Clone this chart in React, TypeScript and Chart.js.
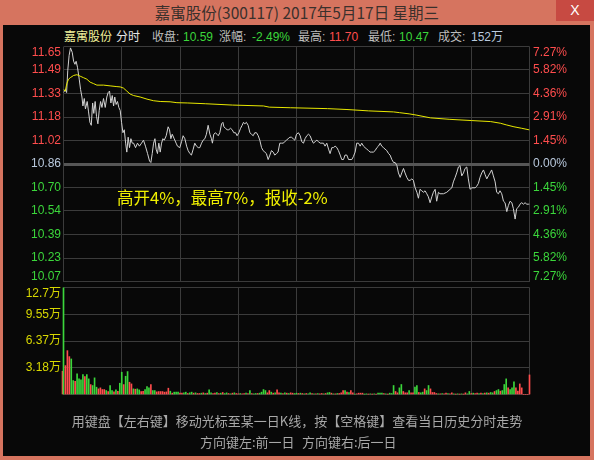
import React, { useEffect, useRef } from 'react';
import { Chart, registerables } from 'chart.js';

Chart.register(...registerables);

// ---------------- data ----------------
const stockName = '嘉寓股份';
const stockCode = '300117';
const dateText = '2017年5月17日';
const weekdayText = '星期三';
const prevClose = 10.86;
const pctStep = 1.454; // percent per grid row
const gridRows = 5;

const quoteLabels = ['收盘:', '涨幅:', '最高:', '最低:', '成交:'];
const quoteValues = ['10.59', '-2.49%', '11.70', '10.47', '152万'];

// [minute from 9:30, price]
const priceAm: [number, number][] = [
  [0, 11.34], [0.9, 11.36], [1.6, 11.34], [2.2, 11.49], [2.9, 11.59], [3.6, 11.64], [4.5, 11.61], [5.2, 11.55], [5.9, 11.53], [6.5, 11.55],
  [7.2, 11.51], [8.1, 11.43], [8.8, 11.36], [9.5, 11.31], [10, 11.25], [10.7, 11.30], [11.3, 11.23], [12.2, 11.28], [12.9, 11.21], [13.6, 11.14],
  [14.3, 11.12], [15, 11.27], [15.6, 11.20], [16.3, 11.28], [17, 11.18], [17.7, 11.13], [18.4, 11.22], [19.1, 11.28], [19.8, 11.24], [20.6, 11.30],
  [21.5, 11.24], [22.3, 11.31], [23, 11.34], [23.7, 11.35], [24.4, 11.27], [25.1, 11.32], [25.8, 11.25], [26.4, 11.31], [27.1, 11.26], [27.8, 11.28],
  [28.5, 11.24], [29.2, 11.22], [29.9, 11.14], [30.6, 11.07], [31.3, 11.09], [32, 11.00], [32.6, 10.94], [33.3, 11.04], [34, 10.97], [34.7, 11.03],
  [35.4, 11.00], [36.1, 11.00], [37.1, 10.97], [38.1, 11.00], [39.1, 10.98], [40.2, 11.00], [41.2, 11.02], [42.2, 10.98], [43.3, 10.93], [44.3, 10.88],
  [45, 10.87], [45.7, 10.93], [46.4, 11.00], [47.1, 11.03], [47.7, 10.96], [48.4, 10.93], [49.1, 11.00], [49.8, 10.94], [50.5, 11.00], [51.2, 11.03],
  [51.9, 11.02], [52.9, 11.05], [53.9, 11.11], [54.6, 11.09], [55.3, 11.03], [56, 11.06], [57, 11.03], [58, 11.00], [58.7, 10.98],
  [59.9, 10.97], [60.8, 11.01], [61.6, 11.05], [62.5, 11.03], [63.4, 10.98], [64.2, 10.95], [65.1, 10.93], [65.9, 10.92], [66.8, 10.96], [67.6, 11.00],
  [68.5, 10.98], [69.4, 10.97], [70.2, 10.97], [71.1, 11.00], [71.9, 11.02], [72.8, 11.03], [73.6, 11.06], [74.5, 11.12], [75.4, 11.06], [76.2, 11.03],
  [76.7, 11.00], [77.4, 11.06], [78.3, 11.07], [79, 11.06], [79.7, 11.05], [80.5, 11.07], [81.4, 11.13], [82.1, 11.14], [82.6, 11.11], [83.4, 11.10],
  [84.3, 11.09], [85.1, 11.09], [86, 11.10], [86.9, 11.09], [87.7, 11.07], [88.6, 11.07], [89.4, 11.05], [90.3, 11.07], [91.2, 11.10], [92, 11.12],
  [92.7, 11.14], [93.4, 11.13], [94.2, 11.14], [95.1, 11.12], [96, 11.07], [96.8, 11.06], [97.7, 11.05], [98.5, 11.07], [99.4, 11.07], [100.3, 11.05],
  [101.1, 11.02], [102, 10.97], [102.8, 10.95], [103.7, 10.94], [104.5, 10.93], [105.4, 10.89], [106.3, 10.92], [107.1, 10.95], [108, 10.94], [108.8, 10.92],
  [109.7, 10.93], [110.5, 10.94], [111.4, 11.00], [112.3, 11.00], [113.1, 11.00], [114, 11.01], [114.8, 11.02], [115.7, 11.03], [116.6, 11.04], [117.4, 11.04],
  [118.3, 11.03], [119.1, 11.02], [120, 11.06],
];

const pricePm: [number, number][] = [
  [121, 11.07], [121.9, 11.05], [122.7, 11.01], [123.6, 11.00], [124.4, 11.03], [125.3, 11.05], [126.2, 11.06], [127, 11.05], [127.9, 11.02], [128.7, 11.00],
  [129.6, 11.01], [130.5, 11.02], [131.3, 11.01], [132.2, 11.00], [133.9, 11.00], [134.7, 10.98], [135.6, 11.00], [136.5, 10.96], [137.3, 10.93], [138.2, 10.97],
  [139, 10.97], [139.9, 10.98], [140.8, 10.97], [141.6, 10.95], [142.5, 10.92], [143.3, 10.89], [144.2, 10.89], [145, 10.92], [145.9, 10.92], [146.8, 10.89],
  [148.5, 10.89], [149.3, 10.91], [150.2, 10.94], [151, 11.00], [151.9, 11.00], [152.8, 10.98], [153.6, 11.00], [154.5, 10.98], [155.3, 10.97], [156.2, 10.96],
  [157.1, 10.95], [157.9, 10.94], [158.8, 10.94], [159.6, 10.94], [160.5, 10.95], [161.4, 10.97], [162.2, 10.98], [163.1, 11.00], [163.9, 10.98], [164.8, 10.97],
  [165.6, 10.96], [166.5, 10.95], [167.4, 10.93], [168.2, 10.92], [169.1, 10.89], [170, 10.87], [170.8, 10.87], [171.7, 10.85], [172.5, 10.80], [173.4, 10.77],
  [174.2, 10.80], [175.1, 10.83], [175.9, 10.80], [176.8, 10.77], [177.7, 10.75],
  [178.5, 10.75], [179.4, 10.76], [180.2, 10.75], [181.1, 10.70], [182, 10.67], [182.8, 10.63], [183.6, 10.69], [184.5, 10.68], [185.4, 10.67], [186.2, 10.68],
  [187.1, 10.66], [187.9, 10.64], [188.8, 10.60], [189.7, 10.64], [190.5, 10.67], [191.4, 10.69], [192.2, 10.61], [193.1, 10.67], [193.9, 10.66], [195.7, 10.66],
  [197.4, 10.67], [199.1, 10.69], [200, 10.70], [200.8, 10.74], [201.7, 10.77], [202.5, 10.80], [203.4, 10.84], [204.2, 10.85], [205.1, 10.78], [206, 10.80],
  [206.8, 10.83], [207.7, 10.84], [208.5, 10.76], [209.4, 10.69], [210.3, 10.70], [212, 10.70], [212.8, 10.71], [213.7, 10.73], [214.5, 10.77], [215.4, 10.80],
  [216.3, 10.82], [217.1, 10.79], [218, 10.76], [218.8, 10.78], [219.7, 10.80], [220.5, 10.82], [221.4, 10.78], [222.3, 10.74], [223.1, 10.67], [224, 10.66],
  [224.8, 10.68], [225.7, 10.66], [226.6, 10.61], [227.4, 10.60], [228.3, 10.54], [229.1, 10.58], [230, 10.61], [230.9, 10.60], [231.7, 10.56], [232.6, 10.49],
  [233.4, 10.56], [234.3, 10.57], [235.1, 10.59], [236, 10.60], [236.9, 10.59], [237.7, 10.60], [238.6, 10.59], [239.4, 10.59], [240, 10.59],
];

// [minute, average price]
const averagePrices: [number, number][] = [
  [0, 11.36], [0.9, 11.35], [1.7, 11.40], [2.6, 11.43], [3.5, 11.44], [5.2, 11.455], [6.9, 11.46], [8.6, 11.45], [10.3, 11.44], [12, 11.43],
  [13.7, 11.41], [15.5, 11.40], [17.2, 11.39], [20.6, 11.39], [24, 11.385], [27.5, 11.38], [29.2, 11.378], [30.9, 11.37], [32.6, 11.35], [34.3, 11.33],
  [36.1, 11.32], [39.5, 11.31], [43, 11.296], [46.4, 11.285], [49.8, 11.28], [54.9, 11.278], [58.4, 11.272], [64, 11.27], [73, 11.265], [87, 11.256],
  [103, 11.25], [106, 11.242], [117, 11.238], [136, 11.232], [146, 11.226], [157, 11.217], [170, 11.21], [173, 11.205], [178, 11.197], [182, 11.188],
  [189, 11.17], [199, 11.16], [210, 11.152], [220, 11.145], [225, 11.134], [228, 11.123], [232, 11.11], [236, 11.10], [240, 11.089],
];

// volume per minute (万), minutes 0..240
const volumes = [
  12.7, 3.44, 5.22, 4.51, 4.23, 1.66, 1.58, 2.45, 1.86, 1.74,
  2.37, 2.13, 2.37, 1.86, 1.18, 1.07, 1.98, 0.87, 0.67, 0.79,
  0.59, 0.59, 0.47, 0.35, 1.07, 0.47, 0.31, 0.55, 0.39, 1.34,
  2.65, 1.18, 2.17, 2.73, 1.46, 1.26, 0.67, 0.63, 0.67, 0.55,
  0.35, 0.39, 0.59, 0.95, 0.79, 1.18, 0.47, 0.47, 0.31, 0.35,
  0.35, 0.35, 0.28, 0.31, 0.75, 0.39, 0.16, 0.28, 0.28, 0.28,
  0.16, 0.16, 0.2, 0.28, 0.12, 0.2, 0.28, 0.16, 0.2, 0.12,
  0.12, 0.16, 0.2, 0.12, 0.16, 0.55, 0.2, 0.12, 0.16, 0.24,
  0.12, 0.16, 0.24, 0.12, 0.2, 0.12, 0.08, 0.16, 0.2, 0.12,
  0.08, 0.12, 0.08, 0.12, 0.16, 0.12, 0.47, 0.12, 0.08, 0.12,
  0.12, 0.16, 0.28, 0.59, 0.47, 0.2, 0.47, 0.28, 0.16, 0.2,
  0.55, 0.2, 0.16, 0.12, 0.2, 0.16, 0.12, 0.2, 0.16, 0.12,
  0.16, 0.12, 0.16, 0.12, 0.08, 0.12, 0.08, 0.2, 0.12, 0.08,
  0.08, 0.12, 0.08, 0.12, 0.08, 0.12, 0.2, 0.24, 0.16, 0.08,
  0.08, 0.12, 0.12, 0.2, 0.47, 0.47, 0.28, 0.24, 0.47, 0.2,
  0.04, 0.08, 0.16, 0.16, 0.16, 0.04, 0.08, 0.04, 0.08, 0.04,
  0.08, 0.04, 0.16, 0.16, 0.16, 0.12, 0.08, 0.04, 0.16, 0.12,
  1.07, 0.36, 0.2, 0.79, 1.19, 0.36, 0.2, 0.2, 0.47, 0.2,
  0.2, 0.87, 1.07, 0.24, 0.2, 0.28, 0.67, 0.47, 1.07, 0.67,
  0.24, 0.24, 0.12, 0.08, 0.08, 0.12, 0.08, 0.16, 0.12, 0.08,
  0.2, 0.08, 0.04, 0.08, 0.04, 0.08, 0.04, 0.2, 0.08, 0.36,
  0.12, 0.16, 0.12, 0.16, 0.12, 0.16, 0.12, 0.16, 0.2, 0.16,
  0.24, 0.2, 0.36, 0.47, 0.59, 0.4, 0.47, 1.19, 1.86, 0.79,
  0.59, 0.79, 1.5, 0.79, 0.4, 1.26, 0.79, 0, 0, 0,
  2.33,
];

// r = up tick (red), g = down tick (green), per minute 0..240
const volumeSides = [
  'grrrggrggg', 'grggrgggrr', 'rrgrggrgrg', 'grggrrgrgg', 'rrgggrggrr',
  'rrrrrgrggg', 'rrggrggrgr', 'rgrgrggrrg', 'rgrggrgrgr', 'rgrrgrgrgg',
  'rggggrrgrg', 'rrgrgrgrrg', 'grgrgrggrg', 'rgrrgrggrg', 'rgrrrgrgrr',
  'grrrrggrgr', 'grgggrgrgg', 'grrggrrrgr', 'rggrggrggr', 'rrrgrgrrgr',
  'rgrgrgrrgg', 'rgrrgrgrgr', 'ggrggrgggr', 'gggrrrrrrr', 'r',
].join('');

const auctionVolume = 2.77;
const volumeMax = 12.735;

const gridMinutes = [0, 30, 60, 90, 120, 150, 180, 210, 240];
const timeTickMinutes = [0, 60, 120, 180, 240];
const timeTickLabels = ['05/17', '10:30', '11:30', '14:00', '15:00'];

const noteText = '高开4%，最高7%，报收-2%';
const helpLine = '用键盘【左右键】移动光标至某一日K线，按【空格键】查看当日历史分时走势';
const helpLeft = '方向键左:前一日';
const helpRight = '方向键右:后一日';

// ---------------- styles ----------------
const W = 594;
const H = 460;
const AREA = { left: 63.5, right: 529.5, priceTop: 46.5, priceBottom: 281.5, volTop: 287.5, volBottom: 394.5 };
const FRAME = '#d6745f';
const PANEL = '#080808';
const GRID = '#3b3b3b';
const ZERO_LINE = '#565656';
const UP = '#ff4d4d';
const DOWN = '#3bd63b';
const NEUTRAL = '#b9c9dd';
const VOL_LABEL = '#d8d800';
const TIME_LABEL = '#8d9db5';
const HELP = '#a8a8a8';
const FONT_NUM = '"Liberation Sans", "Noto Sans CJK SC", sans-serif';
const FONT_CJK = '"Noto Sans CJK SC", "Liberation Sans", sans-serif';

type LabelSpec = {
  scaleId: string;
  x: number;
  align: CanvasTextAlign;
  text: (v: number) => string;
  color: (v: number) => string;
  padTop: number;
  padBottom: number;
};

function sideLabelPlugin(id: string, specs: LabelSpec[]) {
  return {
    id,
    afterDraw(chart: any) {
      const { ctx, chartArea } = chart;
      specs.forEach((s) => {
        const scale = chart.scales[s.scaleId];
        ctx.save();
        ctx.font = '12px ' + FONT_NUM;
        ctx.textAlign = s.align;
        ctx.textBaseline = 'middle';
        scale.ticks.forEach((t: any) => {
          const label = s.text(t.value);
          if (!label) return;
          const raw = scale.getPixelForValue(t.value);
          const y = Math.min(Math.max(raw, chartArea.top + s.padTop), chartArea.bottom - s.padBottom);
          ctx.fillStyle = s.color(t.value);
          ctx.fillText(label, s.x, y);
        });
        ctx.restore();
      });
    },
  };
}

const priceColor = (v: number) => (v > prevClose + 1e-6 ? UP : v < prevClose - 1e-6 ? DOWN : NEUTRAL);

const xGridScale = (showLabels: boolean) => ({
  type: 'linear' as const,
  min: 0,
  max: 240,
  offset: false,
  afterBuildTicks: (s: any) => {
    s.ticks = gridMinutes.map((v) => ({ value: v }));
  },
  afterFit: (s: any) => {
    s.height = 0;
  },
  ticks: {
    display: showLabels,
    autoSkip: false,
    maxRotation: 0,
    padding: 3,
    color: TIME_LABEL,
    font: { family: FONT_NUM, size: 12.5 },
    callback: (v: any) => {
      const i = timeTickMinutes.indexOf(Number(v));
      return i >= 0 ? timeTickLabels[i] : '';
    },
  },
  grid: { color: GRID, lineWidth: 1, drawTicks: false, offset: false },
  border: { display: false },
});

export default function App() {
  const priceRef = useRef<HTMLCanvasElement | null>(null);
  const volRef = useRef<HTMLCanvasElement | null>(null);

  useEffect(() => {
    const rowPrice = (k: number) => prevClose * (1 + (k * pctStep) / 100);
    const priceSeries = [...priceAm, ...pricePm];

    const priceChart = new Chart(priceRef.current as HTMLCanvasElement, {
      type: 'line',
      data: {
        datasets: [
          {
            label: '均价',
            data: averagePrices.map(([m, p]) => ({ x: m, y: p })),
            borderColor: '#e8e800',
            borderWidth: 1,
            pointRadius: 0,
            tension: 0,
          },
          {
            label: '价格',
            data: priceSeries.map(([m, p]) => ({ x: m, y: p })),
            borderColor: '#d2d2d2',
            borderWidth: 1,
            pointRadius: 0,
            tension: 0,
          },
        ],
      },
      options: {
        responsive: false,
        animation: false,
        devicePixelRatio: 1,
        events: [],
        layout: {
          padding: { left: AREA.left, right: W - AREA.right, top: AREA.priceTop, bottom: H - AREA.priceBottom },
        },
        plugins: { legend: { display: false }, tooltip: { enabled: false } },
        scales: {
          x: xGridScale(false) as any,
          y: {
            type: 'linear',
            min: rowPrice(-gridRows),
            max: rowPrice(gridRows),
            afterBuildTicks: (s: any) => {
              const ticks = [];
              for (let k = -gridRows; k <= gridRows; k++) ticks.push({ value: rowPrice(k) });
              s.ticks = ticks;
            },
            afterFit: (s: any) => {
              s.width = 0;
            },
            ticks: { display: false },
            grid: {
              drawTicks: false,
              color: (c: any) => (c.tick && Math.abs(c.tick.value - prevClose) < 1e-6 ? ZERO_LINE : GRID),
              lineWidth: (c: any) => (c.tick && Math.abs(c.tick.value - prevClose) < 1e-6 ? 3 : 1),
            },
            border: { display: false },
          } as any,
        },
      },
      plugins: [
        sideLabelPlugin('priceLabels', [
          {
            scaleId: 'y',
            x: 61,
            align: 'right',
            text: (v) => v.toFixed(2),
            color: priceColor,
            padTop: 6.5,
            padBottom: 4.5,
          },
          {
            scaleId: 'y',
            x: 533,
            align: 'left',
            text: (v) => Math.abs((v / prevClose - 1) * 100).toFixed(2) + '%',
            color: priceColor,
            padTop: 6.5,
            padBottom: 4.5,
          },
        ]),
      ],
    });

    const volChart = new Chart(volRef.current as HTMLCanvasElement, {
      type: 'bar',
      data: {
        datasets: [
          {
            label: '成交量',
            data: volumes.map((v, i) => ({ x: i, y: v })),
            backgroundColor: volumes.map((_, i) => (volumeSides[i] === 'r' ? UP : DOWN)),
            borderWidth: 0,
            barThickness: 1,
            grouped: false,
            clip: false,
          } as any,
          {
            label: '集合竞价',
            data: [{ x: -0.5, y: auctionVolume }],
            backgroundColor: UP,
            borderWidth: 0,
            barThickness: 1,
            grouped: false,
            clip: false,
          } as any,
        ],
      },
      options: {
        responsive: false,
        animation: false,
        devicePixelRatio: 1,
        events: [],
        layout: {
          padding: { left: AREA.left, right: W - AREA.right, top: AREA.volTop, bottom: H - AREA.volBottom },
        },
        plugins: { legend: { display: false }, tooltip: { enabled: false } },
        scales: {
          x: xGridScale(true) as any,
          y: {
            type: 'linear',
            min: 0,
            max: volumeMax,
            afterBuildTicks: (s: any) => {
              s.ticks = [0, 1, 2, 3, 4].map((k) => ({ value: (volumeMax * k) / 4 }));
            },
            afterFit: (s: any) => {
              s.width = 0;
            },
            ticks: { display: false },
            grid: { drawTicks: false, color: GRID, lineWidth: 1 },
            border: { display: false },
          } as any,
        },
      },
      plugins: [
        sideLabelPlugin('volLabels', [
          {
            scaleId: 'y',
            x: 61,
            align: 'right',
            text: (v) => (v > 0 ? v.toPrecision(3) + '万' : ''),
            color: () => VOL_LABEL,
            padTop: 6,
            padBottom: 4,
          },
        ]),
      ],
    });

    return () => {
      priceChart.destroy();
      volChart.destroy();
    };
  }, []);

  const header = [
    { t: stockName, x: 64, c: '#f2f29a' },
    { t: '分时', x: 116, c: '#e6e6e6' },
    { t: quoteLabels[0], x: 152, c: '#bdbdbd' },
    { t: quoteValues[0], x: 183, c: DOWN },
    { t: quoteLabels[1], x: 219, c: '#bdbdbd' },
    { t: quoteValues[1], x: 252, c: DOWN },
    { t: quoteLabels[2], x: 298, c: '#bdbdbd' },
    { t: quoteValues[2], x: 329, c: UP },
    { t: quoteLabels[3], x: 368, c: '#bdbdbd' },
    { t: quoteValues[3], x: 399, c: DOWN },
    { t: quoteLabels[4], x: 438, c: '#bdbdbd' },
    { t: quoteValues[4], x: 471, c: NEUTRAL },
  ];

  const abs = (o: React.CSSProperties): React.CSSProperties => ({ position: 'absolute', whiteSpace: 'nowrap', ...o });

  return (
    <div style={{ position: 'fixed', left: 0, top: 0, width: W, height: H, background: FRAME, overflow: 'hidden' }}>
      <div
        style={abs({
          left: 0,
          top: 0,
          width: W,
          height: 24,
          lineHeight: '24px',
          textAlign: 'center',
          fontFamily: FONT_CJK,
          fontSize: 15.5,
          color: '#3a302c',
        })}
      >
        {`${stockName}(${stockCode}) ${dateText} ${weekdayText}`}
      </div>
      <div
        style={abs({
          left: 556,
          top: 0,
          width: 38,
          height: 21,
          background: '#c74a42',
          color: '#ffffff',
          fontFamily: FONT_NUM,
          fontSize: 14,
          lineHeight: '21px',
          textAlign: 'center',
        })}
      >
        X
      </div>
      <div style={abs({ left: 3, top: 25, width: 587, height: 431, background: PANEL })} />
      {header.map((h, i) => (
        <span
          key={i}
          style={abs({ left: h.x, top: 29, lineHeight: '16px', fontSize: 12, fontFamily: FONT_NUM, color: h.c })}
        >
          {h.t}
        </span>
      ))}
      <canvas ref={priceRef} width={W} height={H} style={abs({ left: 0, top: 0, width: W, height: H })} />
      <canvas ref={volRef} width={W} height={H} style={abs({ left: 0, top: 0, width: W, height: H })} />
      <div style={abs({ left: 117, top: 187, lineHeight: '20px', fontSize: 16.5, fontFamily: FONT_CJK, color: '#f0f000' })}>
        {noteText}
      </div>
      <div
        style={abs({ left: 0, top: 412, width: W, textAlign: 'center', lineHeight: '18px', fontSize: 13, fontFamily: FONT_CJK, color: HELP })}
      >
        {helpLine}
      </div>
      <div style={abs({ left: 200, top: 433, lineHeight: '18px', fontSize: 13, fontFamily: FONT_CJK, color: HELP })}>{helpLeft}</div>
      <div style={abs({ left: 302, top: 433, lineHeight: '18px', fontSize: 13, fontFamily: FONT_CJK, color: HELP })}>{helpRight}</div>
    </div>
  );
}
